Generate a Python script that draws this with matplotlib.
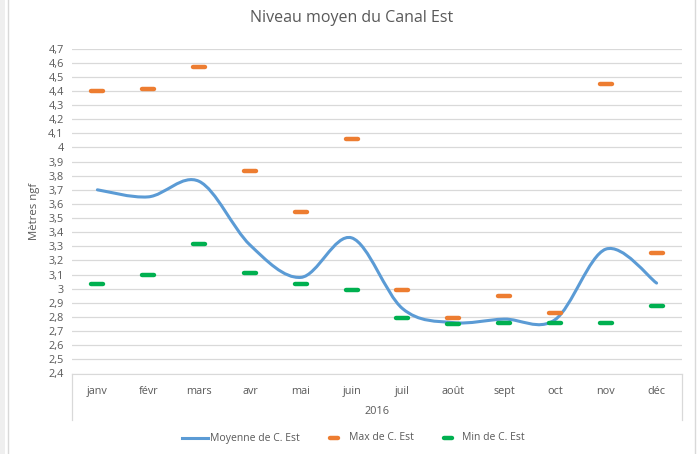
import matplotlib
matplotlib.use("Agg")
import matplotlib.pyplot as plt
from matplotlib.path import Path
from matplotlib.patches import PathPatch
from matplotlib.markers import MarkerStyle
from matplotlib.lines import Line2D
import numpy as np

plt.rcParams['font.family'] = ['Open Sans', 'DejaVu Sans']

mois = ['janv', 'févr', 'mars', 'avr', 'mai', 'juin', 'juil', 'août', 'sept', 'oct', 'nov', 'déc']
moyenne = [3.70, 3.65, 3.76, 3.31, 3.08, 3.36, 2.86, 2.76, 2.785, 2.78, 3.28, 3.04]
maxi = [4.40, 4.41, 4.57, 3.83, 3.54, 4.06, 2.99, 2.79, 2.95, 2.83, 4.45, 3.25]
mini = [3.03, 3.10, 3.32, 3.11, 3.03, 2.99, 2.79, 2.75, 2.76, 2.76, 2.76, 2.88]
yticks = [round(2.4 + 0.1 * i, 1) for i in range(24)]

txt = '#595959'
grid = '#D9D9D9'
bleu = '#5B9BD5'
orange = '#ED7D31'
vert = '#00B050'

fig = plt.figure(figsize=(6.99, 4.54), dpi=100)
ax = fig.add_axes([72 / 699, 1 - 373.5 / 454, 610 / 699, 325 / 454])

x = np.arange(len(mois))

# courbe lissee (type Excel) : Bezier cubique a partir des points
pts = np.column_stack([x, moyenne]).astype(float)
ext = np.vstack([pts[0], pts, pts[-1]])
verts = [tuple(pts[0])]
codes = [Path.MOVETO]
for i in range(len(pts) - 1):
    p0, p1, p2, p3 = ext[i], ext[i + 1], ext[i + 2], ext[i + 3]
    c1 = p1 + (p2 - p0) / 6
    c2 = p2 - (p3 - p1) / 6
    verts += [tuple(c1), tuple(c2), tuple(p2)]
    codes += [Path.CURVE4] * 3
ax.add_patch(PathPatch(Path(verts, codes), fill=False, edgecolor=bleu, lw=2.2,
                       capstyle='round', zorder=3))

dash = MarkerStyle('_', capstyle='round')
ax.plot(x, maxi, ls='none', marker=dash, ms=8.5, mew=3.2, color=orange, zorder=4)
ax.plot(x, mini, ls='none', marker=dash, ms=8.5, mew=3.2, color=vert, zorder=4)

ax.set_xlim(-0.5, len(mois) - 0.5)
ax.set_ylim(2.4, 4.7)
ax.set_yticks(yticks)
ax.set_yticklabels([('%g' % v).replace('.', ',') for v in yticks])
ax.yaxis.grid(True, color=grid, lw=0.9)
ax.set_axisbelow(True)
ax.set_xticks(x)
ax.set_xticklabels(mois)
ax.tick_params(axis='x', length=0, pad=9, labelsize=7.8, colors=txt)
ax.tick_params(axis='y', length=0, pad=6, labelsize=7.8, colors=txt)
for s in ['top', 'right', 'left']:
    ax.spines[s].set_visible(False)
ax.spines['bottom'].set_color(grid)
ax.set_ylabel('Mètres ngf', color=txt, fontsize=8.2, labelpad=6)

# axe de categories a deux niveaux
for xe in [72, 682]:
    fig.add_artist(Line2D([xe / 699, xe / 699], [1 - 373.5 / 454, 1 - 420 / 454],
                          color=grid, lw=0.9))
fig.text(377 / 699, 1 - 412 / 454, '2016', ha='center', va='center', fontsize=7.8, color=txt)

fig.suptitle('Niveau moyen du Canal Est', x=352 / 699, y=1 - 18 / 454, va='center',
             fontsize=11.5, color=txt)

# legende
ly = 1 - 438 / 454
fig.add_artist(Line2D([182 / 699, 208 / 699], [ly, ly], color=bleu, lw=2.2))
fig.text(210 / 699, ly, 'Moyenne de C. Est', va='center', fontsize=7.5, color=txt)
fig.add_artist(Line2D([334 / 699], [ly], marker=dash, ms=5.5, mew=3.2, color=orange))
fig.text(349 / 699, ly, 'Max de C. Est', va='center', fontsize=7.5, color=txt)
fig.add_artist(Line2D([448 / 699], [ly], marker=dash, ms=5.5, mew=3.2, color=vert))
fig.text(462 / 699, ly, 'Min de C. Est', va='center', fontsize=7.5, color=txt)

# bordure de la zone graphique
fig.add_artist(plt.Rectangle((0, 0), 5 / 699, 1, color='#EFEFEF', lw=0))
for xb in [8, 695]:
    fig.add_artist(Line2D([xb / 699, xb / 699], [0, 1], color=grid, lw=1))

fig.savefig('out.png', dpi=100)
